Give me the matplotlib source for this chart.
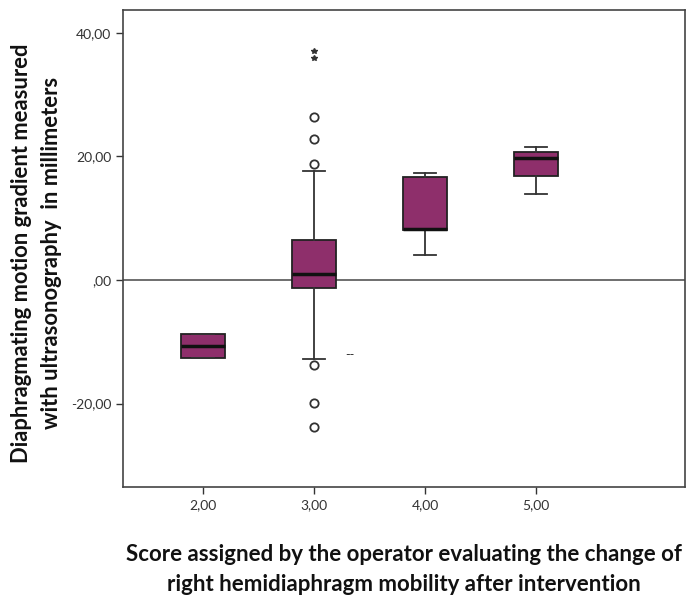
import matplotlib.pyplot as plt

# data (SPSS style boxplot)
groups = [2.0, 3.0, 4.0, 5.0]
tick_labels = ["2,00", "3,00", "4,00", "5,00"]
q1 = [-12.6, -1.25, 8.1, 16.9]
median = [-10.7, 0.9, 8.3, 19.7]
q3 = [-8.7, 6.4, 16.6, 20.8]
whisker_low = [-12.6, -12.7, 4.0, 13.9]
whisker_high = [-8.7, 17.7, 17.3, 21.6]
outliers = [[], [18.7, 22.8, 26.4, -13.8, -19.9, -23.8], [], []]
extremes = [[], [36.0, 37.0], [], []]

y_ticks = [-20, 0, 20, 40]
y_tick_labels = ["-20,00", ",00", "20,00", "40,00"]

plt.rcParams["font.family"] = ["Lato", "DejaVu Sans"]

fig = plt.figure(figsize=(6.93, 6.0), dpi=100)
ax = fig.add_axes([0.1775, 0.1883, 0.811, 0.795])

stats = []
for i in range(len(groups)):
    stats.append({
        "q1": q1[i],
        "med": median[i],
        "q3": q3[i],
        "whislo": whisker_low[i],
        "whishi": whisker_high[i],
        "fliers": outliers[i],
    })

ax.axhline(0, color="#555555", lw=1.2, zorder=1)

ax.bxp(
    stats,
    positions=groups,
    widths=0.4,
    capwidths=0.2,
    patch_artist=True,
    boxprops=dict(facecolor="#8e2f6b", edgecolor="#222222", lw=1.3),
    medianprops=dict(color="#111111", lw=2.5),
    whiskerprops=dict(color="#333333", lw=1.3),
    capprops=dict(color="#333333", lw=1.3),
    flierprops=dict(marker="o", markersize=6, markerfacecolor="white",
                    markeredgecolor="#333333", markeredgewidth=1.3),
    zorder=3,
)

for i in range(len(groups)):
    for v in extremes[i]:
        ax.plot(groups[i], v, marker="*", markersize=4,
                color="#333333", lw=0)

ax.text(3.28, -12.2, "--", fontsize=9, color="#333333",
        ha="left", va="center")

ax.set_xlim(1.28, 6.34)
ax.set_ylim(-33.5, 43.7)
ax.set_xticks(groups)
ax.set_xticklabels(tick_labels)
ax.set_yticks(y_ticks)
ax.set_yticklabels(y_tick_labels)
ax.tick_params(labelsize=10, colors="#333333", length=5, width=1)

for s in ax.spines.values():
    s.set_color("#444444")
    s.set_linewidth(1.2)

ax.set_xlabel(
    "Score assigned by the operator evaluating the change of\n"
    "right hemidiaphragm mobility after intervention",
    fontsize=16, fontweight="bold", color="#111111",
    linespacing=1.5,
)
ax.xaxis.set_label_coords(0.5, -0.12)

ax.set_ylabel(
    "Diaphragmating motion gradient measured\n"
    "with ultrasonography  in millimeters",
    fontsize=15.8, fontweight="bold", color="#111111",
    linespacing=1.55,
)
ax.yaxis.set_label_coords(-0.108, 0.49)

fig.savefig("out.png", dpi=100)
